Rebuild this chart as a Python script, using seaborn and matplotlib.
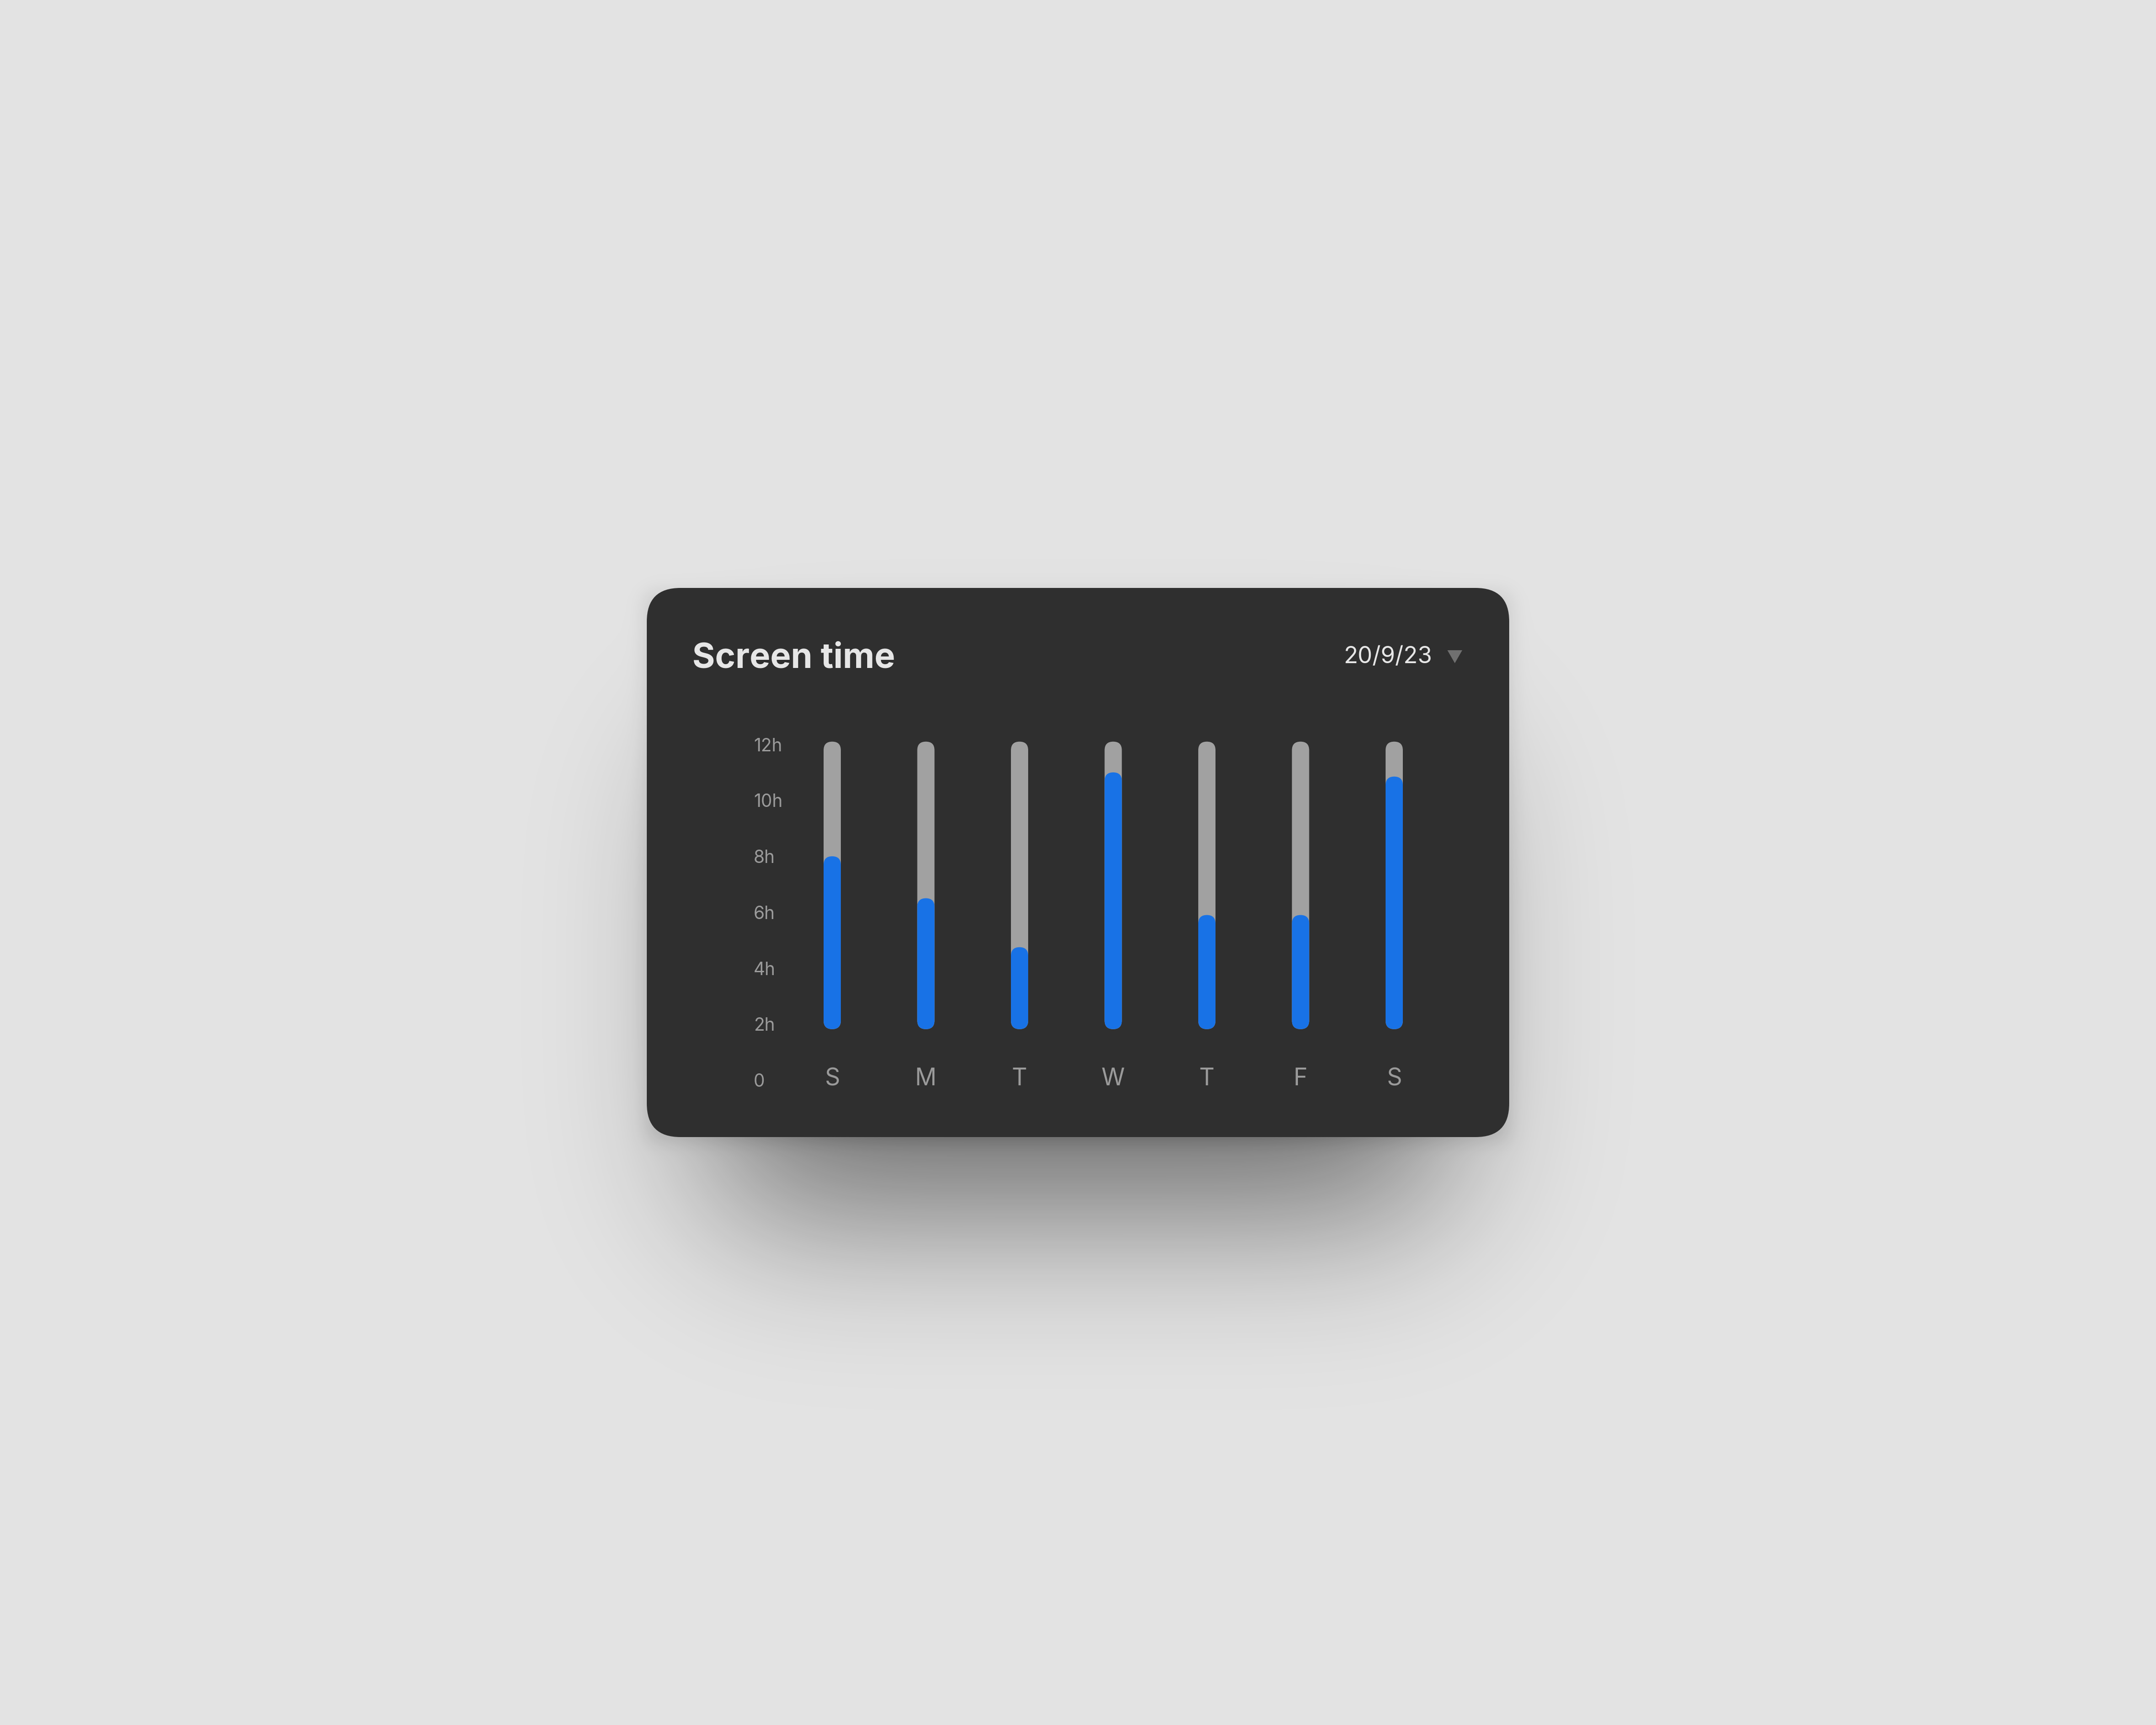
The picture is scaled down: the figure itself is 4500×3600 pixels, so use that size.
import numpy as np
import pandas as pd
import matplotlib
matplotlib.use("Agg")
import matplotlib.pyplot as plt
from matplotlib.patches import FancyBboxPatch, Polygon
import seaborn as sns

days = ["Sun", "Mon", "Tue", "Wed", "Thu", "Fri", "Sat"]
day_labels = ["S", "M", "T", "W", "T", "F", "S"]
hours = [8.0, 6.5, 4.75, 11.0, 5.9, 5.9, 10.85]
y_ticks = [0, 2, 4, 6, 8, 10, 12]
y_tick_labels = ["0", "2h", "4h", "6h", "8h", "10h", "12h"]
title = "Screen time"
date_label = "20/9/23"

# --- colours ---
BG = "#e3e3e3"
CARD = "#2f2f2f"
TRACK = "#a1a1a1"
BLUE = "#1872e6"
MUTED = "#9a9a9a"
LIGHT = "#e6e6e6"
ARROW = "#707070"

# bars sit a bit above the "0" label and the track runs to just over 12h
TRACK_BASE = 1.82
TRACK_TOP = 12.1

W, H, DPI = 4500, 3600, 300

sns.set_style("white")
plt.rcParams["font.family"] = ["Inter", "DejaVu Sans"]

fig = plt.figure(figsize=(W / DPI, H / DPI), dpi=DPI, facecolor=BG)

# background layer in pixel coords: drop shadow + card
bg = fig.add_axes([0, 0, 1, 1])
bg.axis("off")

card_x0, card_y0, card_x1, card_y1 = 1350, 1227, 3150, 2373

step = 10
gx = np.arange(0, W, step) + step / 2
gy = np.arange(0, H, step) + step / 2


def gauss(coords, sigma):
    k = np.exp(-0.5 * ((coords[:, None] - coords[None, :]) / sigma) ** 2)
    return k / k.sum(axis=1, keepdims=True)


def soft_rect(x0, y0, x1, y1, sigma):
    m = np.zeros((gy.size, gx.size))
    m[np.ix_((gy > y0) & (gy < y1), (gx > x0) & (gx < x1))] = 1.0
    return gauss(gy, sigma) @ m @ gauss(gx, sigma).T


# wide shadow pushed down, plus a tight one hugging the edges
alpha = 0.52 * soft_rect(card_x0 + 150, card_y0 + 350, card_x1 - 150, card_y1 + 155, 170)
alpha += 0.12 * soft_rect(card_x0, card_y0 + 15, card_x1, card_y1 + 10, 20)
shadow = np.zeros((gy.size, gx.size, 4))
shadow[..., 3] = np.clip(alpha, 0, 1)
bg.imshow(shadow, extent=(0, W, H, 0), interpolation="bilinear", zorder=0)
bg.set_aspect("auto")
bg.set_xlim(0, W)
bg.set_ylim(H, 0)

bg.add_patch(FancyBboxPatch((card_x0, card_y0), card_x1 - card_x0, card_y1 - card_y0,
                            boxstyle="round,pad=0,rounding_size=70",
                            fc=CARD, ec="none", zorder=1))
bg.add_patch(Polygon([(3021, 1357), (3052, 1357), (3036.5, 1384)],
                     closed=True, fc=ARROW, ec="none", zorder=2))

fig.text(1445 / W, 1 - 1393 / H, title, fontsize=17.4, fontweight="bold",
         color=LIGHT, ha="left", va="baseline")
fig.text(2804 / W, 1 - 1384 / H, date_label, fontsize=11.65,
         color=LIGHT, ha="left", va="baseline")

# --- chart ---
ax_l, ax_r = 1639.25, 3007.75
zero_px, px_per_hour = 2254, 58.37
y_max = 12.5
ax = fig.add_axes([ax_l / W, 1 - zero_px / H, (ax_r - ax_l) / W, y_max * px_per_hour / H])
ax.patch.set_alpha(0)

df = pd.DataFrame({"day": days, "hours": hours})
sns.barplot(data=df, x="day", y="hours", order=days, color=BLUE,
            width=0.184, errorbar=None, ax=ax)

x_unit = (ax_r - ax_l) / len(days)
aspect = x_unit / px_per_hour
for bar in list(ax.patches):
    x, w, top = bar.get_x(), bar.get_width(), bar.get_height()
    bar.remove()
    for y1, c, z in ((TRACK_TOP, TRACK, 2), (top, BLUE, 3)):
        ax.add_patch(FancyBboxPatch((x, TRACK_BASE), w, y1 - TRACK_BASE,
                                    boxstyle=f"round,pad=0,rounding_size={w / 2}",
                                    mutation_aspect=aspect, fc=c, ec="none",
                                    zorder=z, clip_on=False))

ax.set_xlim(-0.5, len(days) - 0.5)
ax.set_ylim(0, y_max)
ax.set_xticks(range(len(days)), day_labels)
ax.set_yticks(y_ticks, y_tick_labels)
ax.set(xlabel="", ylabel="")
sns.despine(ax=ax, left=True, bottom=True)
ax.grid(False)

ax.tick_params(axis="x", length=0, pad=-0.5, labelsize=11.9, labelcolor=MUTED)
ax.tick_params(axis="y", length=0, pad=15.9, labelsize=8.9, labelcolor=MUTED)
for lab in ax.get_xticklabels():
    lab.set_va("center")
for lab in ax.get_yticklabels():
    lab.set_ha("left")

fig.savefig("out.png", dpi=DPI, facecolor=BG)
